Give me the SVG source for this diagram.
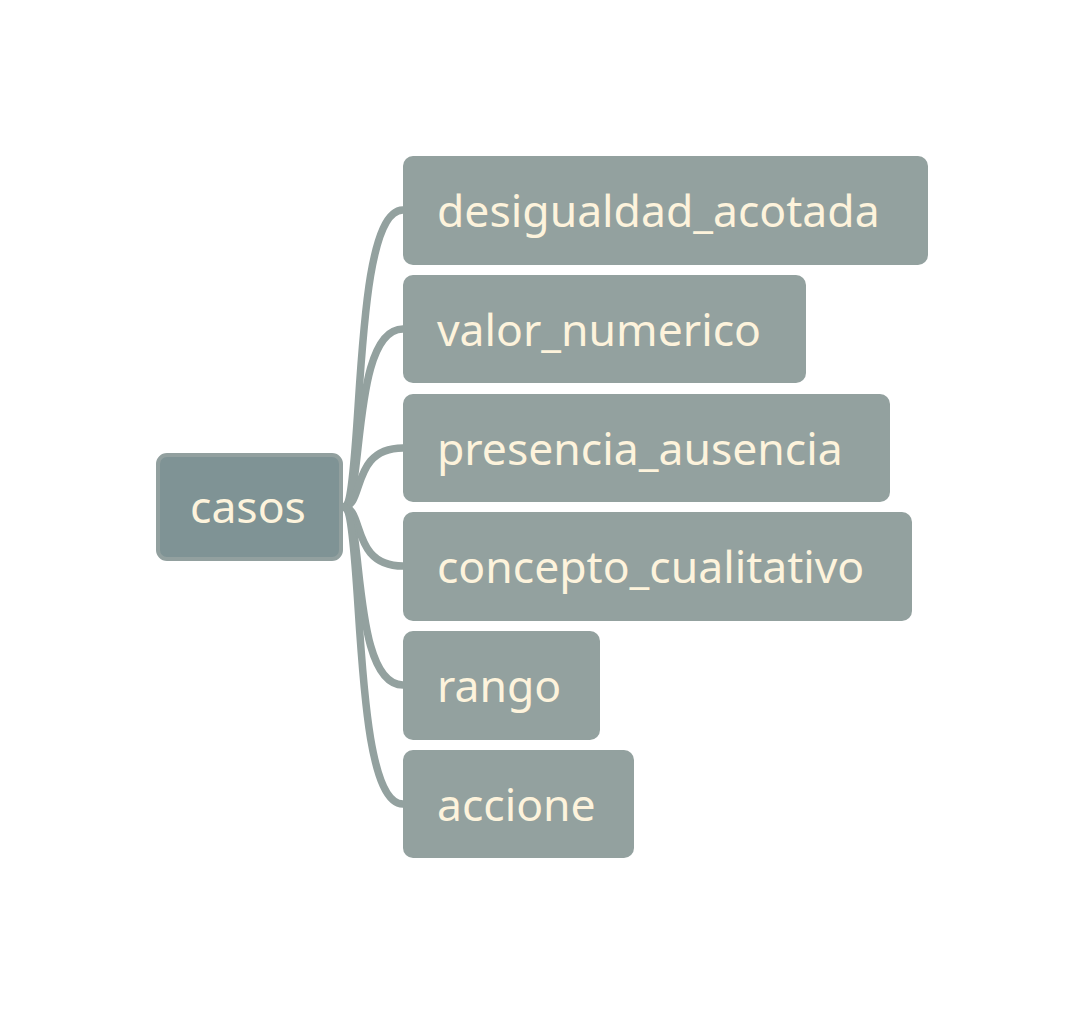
<svg xmlns="http://www.w3.org/2000/svg" width="1085" height="1016" viewBox="0 0 1085 1016">
<style>
.c{fill:#93a19f}
.t{font-family:"Noto Sans","Open Sans",sans-serif;font-size:44.5px;fill:#fdf3dc}
.l{fill:none;stroke:#93a19f;stroke-width:7.5;stroke-linecap:round}
</style>
<rect width="1085" height="1016" fill="#ffffff"/>
<g id="connectors">
<path class="l" d="M343,507 C365,507 350,210 403,210"/>
<path class="l" d="M343,507 C365,507 350,329 403,329"/>
<path class="l" d="M343,507 C365,507 350,448 403,448"/>
<path class="l" d="M343,507 C365,507 350,566 403,566"/>
<path class="l" d="M343,507 C365,507 350,685 403,685"/>
<path class="l" d="M343,507 C365,507 350,804 403,804"/>
</g>
<g id="casos">
<rect x="158" y="455" width="183" height="104" rx="9" fill="#7f9395" stroke="#92a09f" stroke-width="4"/>
<text class="t" x="248" y="523" text-anchor="middle">casos</text>
</g>
<g id="desigualdad_acotada">
<rect class="c" x="403" y="156" width="525" height="109" rx="10"/>
<text class="t" x="437" y="227">desigualdad_acotada</text>
</g>
<g id="valor_numerico">
<rect class="c" x="403" y="275" width="403" height="108" rx="10"/>
<text class="t" x="437" y="346">valor_numerico</text>
</g>
<g id="presencia_ausencia">
<rect class="c" x="403" y="394" width="487" height="108" rx="10"/>
<text class="t" x="437" y="465">presencia_ausencia</text>
</g>
<g id="concepto_cualitativo">
<rect class="c" x="403" y="512" width="509" height="109" rx="10"/>
<text class="t" x="437" y="583">concepto_cualitativo</text>
</g>
<g id="rango">
<rect class="c" x="403" y="631" width="197" height="109" rx="10"/>
<text class="t" x="437" y="702">rango</text>
</g>
<g id="accione">
<rect class="c" x="403" y="750" width="231" height="108" rx="10"/>
<text class="t" x="437" y="821">accione</text>
</g>
</svg>
